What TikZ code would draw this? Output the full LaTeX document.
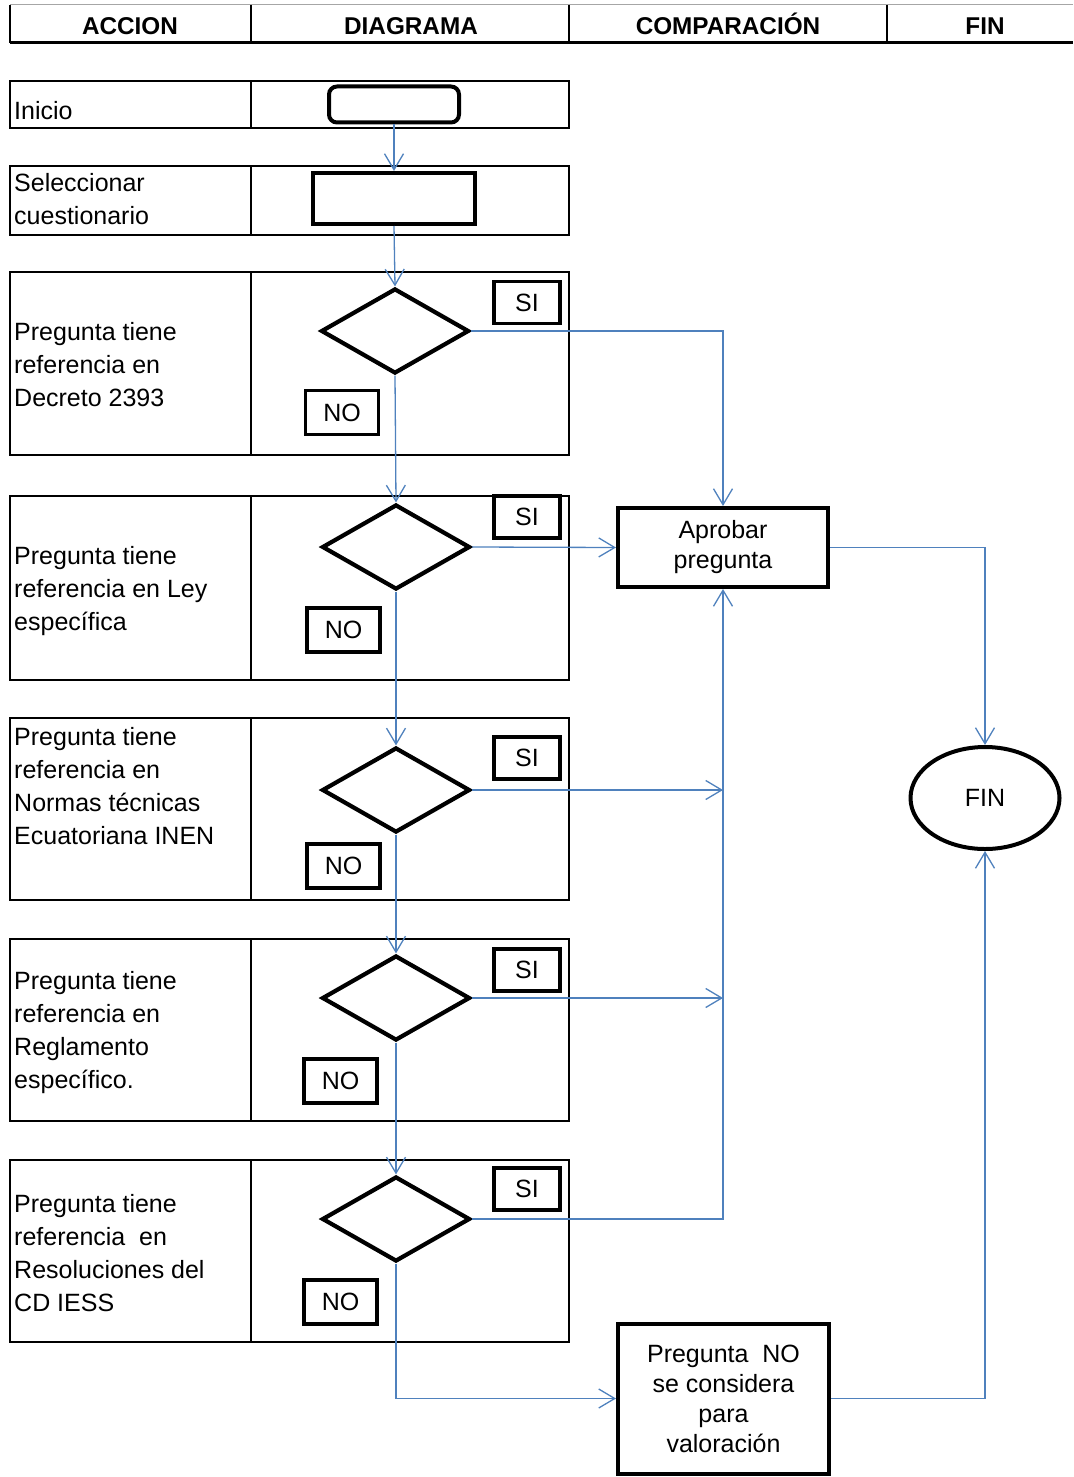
\documentclass[tikz,border=0pt]{standalone}
\usepackage{fontspec}
\setmainfont{Liberation Sans}
\usetikzlibrary{shapes.geometric, arrows.meta, positioning}

\definecolor{flowblue}{RGB}{79,129,189}

\tikzset{
  frame/.style={draw, line width=2pt},
  hdr/.style={anchor=base, inner sep=0pt, font=\fontsize{24.3}{28}\selectfont\bfseries},
  rowtext/.style={anchor=west, align=left, inner sep=0pt, font=\fontsize{25}{33}\selectfont},
  blk/.style={draw, line width=4pt, rectangle, inner sep=0pt, align=center, font=\fontsize{25}{30}\selectfont},
  decision/.style={draw, line width=4.2pt, diamond, minimum width=148pt, minimum height=85pt, inner sep=0pt},
  tag/.style={draw, line width=3.5pt, inner sep=0pt, font=\fontsize{25}{28}\selectfont},
  flow/.style={draw=flowblue, line width=1.3pt, -{Straight Barb[length=16pt,width=19pt]}},
  link/.style={draw=flowblue, line width=1.3pt},
}

\begin{document}
\begin{tikzpicture}[x=1pt, y=-1pt]
\useasboundingbox (0,0) rectangle (1073,1477);

% header
\draw[black!35, line width=1pt] (10,5) -- (1073,5);
\draw[line width=3pt] (10,43) -- (1073,43);
\foreach \x in {10,251,569,887} \draw[line width=2pt] (\x,5) -- (\x,43);
\node[hdr] (hAccion) at (130,35) {ACCION};
\node[hdr] (hDiagrama) at (411,35) {DIAGRAMA};
\node[hdr] (hComp) at (728,35) {COMPARACIÓN};
\node[hdr] (hFin) at (985,35) {FIN};

% rows
\foreach \t/\b in {81/128, 166/235, 272/455, 496/680, 718/900, 939/1121, 1160/1342} {
  \draw[frame] (10,\t) rectangle (569,\b);
  \draw[frame] (251,\t) -- (251,\b);
}

\node[rowtext] (tInicio) at (14,111) {Inicio};
\node[rowtext] (tSelect) at (14,199) {Seleccionar\\cuestionario};
\node[rowtext] (tDecreto) at (14,365) {Pregunta tiene\\referencia en\\Decreto 2393};
\node[rowtext] (tLey) at (14,591) {Pregunta tiene\\referencia en Ley\\específica};
\node[rowtext] (tNormas) at (14,786) {Pregunta tiene\\referencia en\\Normas técnicas\\Ecuatoriana INEN};
\node[rowtext] (tRegla) at (14,1033) {Pregunta tiene\\referencia en\\Reglamento\\específico.};
\node[rowtext] (tResol) at (14,1253) {Pregunta tiene\\referencia\ \ en\\Resoluciones del\\CD IESS};

% diagram
\node[blk, rounded corners=8pt, minimum width=130pt, minimum height=36pt] (inicio) at (394,104.5) {};
\node[blk, minimum width=162pt, minimum height=51pt] (select) at (394,198.5) {};

\node[decision] (d1) at (395,331) {};
\node[decision] (d2) at (396,547) {};
\node[decision] (d3) at (396,790) {};
\node[decision] (d4) at (396,998) {};
\node[decision] (d5) at (396,1219) {};

\node[tag, minimum width=66pt, minimum height=42pt] (si1) at (527,302.5) {SI};
\node[tag, minimum width=66pt, minimum height=42pt] (si2) at (527,517) {SI};
\node[tag, minimum width=66pt, minimum height=42pt] (si3) at (527,758) {SI};
\node[tag, minimum width=66pt, minimum height=42pt] (si4) at (527,970) {SI};
\node[tag, minimum width=66pt, minimum height=42pt] (si5) at (527,1189) {SI};

\node[tag, minimum width=73pt, minimum height=44pt] (no1) at (342,412.5) {NO};
\node[tag, minimum width=73pt, minimum height=44pt] (no2) at (343.5,630) {NO};
\node[tag, minimum width=73pt, minimum height=44pt] (no3) at (343.5,866) {NO};
\node[tag, minimum width=73pt, minimum height=44pt] (no4) at (340.5,1081) {NO};
\node[tag, minimum width=73pt, minimum height=44pt] (no5) at (340.5,1302) {NO};

\node[blk, minimum width=210pt, minimum height=79pt] (aprobar) at (723,547.5) {Aprobar\\pregunta};
\node[blk, minimum width=211pt, minimum height=150pt] (nocons) at (723.5,1398.5) {Pregunta\ \ NO\\se considera\\para\\valoración};
\node[draw, ellipse, line width=4pt, minimum width=149pt, minimum height=102pt, font=\fontsize{25}{30}\selectfont] (fin) at (985,798) {FIN};

\coordinate (j3) at (aprobar.south |- d3.east);
\coordinate (j4) at (aprobar.south |- d4.east);

% connectors
\draw[flow] (inicio.south) -- (select.north);
\draw[flow] (select.south) -- (d1.north);
\draw[flow] (d1.south) -- (d2.north);
\draw[flow] (d2.south) -- (d3.north);
\draw[flow] (d3.south) -- (d4.north);
\draw[flow] (d4.south) -- (d5.north);

\draw[flow] (d1.east) -| (aprobar.north);
\draw[flow] (d2.east) -- (aprobar.west);
\draw[flow] (d3.east) -- (j3);
\draw[flow] (d4.east) -- (j4);
\draw[flow] (d5.east) -| (aprobar.south);
\draw[flow] (d5.south) |- (nocons.west);

\draw[flow] (aprobar.east) -| (fin.north);
\draw[flow] (nocons.east) -| (fin.south);
\end{tikzpicture}
\end{document}
